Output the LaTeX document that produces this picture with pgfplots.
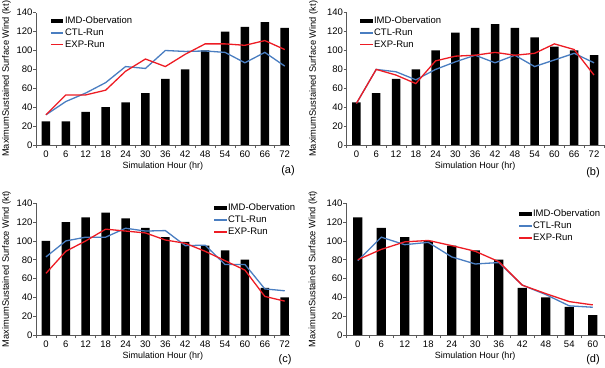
\documentclass[border=0pt]{standalone}
\usepackage{pgfplots}
\pgfplotsset{compat=1.18}
\usepackage{pgfplotstable}
\usepackage{fontspec}
\setmainfont{Liberation Sans}
\definecolor{ctl}{RGB}{74,126,193}
\definecolor{expc}{RGB}{237,28,36}
\definecolor{axgray}{RGB}{90,90,90}

\pgfplotstableread{
x obs ctl exp
0 25 32 32
1 25 46 53
2 35 55 53
3 40 66 58
4 45 83 78
5 55 81 91
6 70 100 83
7 80 99 96
8 100 99.5 107
9 120 98 107
10 125 87 105.5
11 130 98 110.5
12 124 83.5 101
}\tA
\pgfplotstableread{
x obs ctl exp
0 45 44 44
1 55 80 80
2 70 77.5 74
3 80 69 65
4 100 80 89
5 119 88 94
6 124 95 95
7 128 87 98
8 124 95 95
9 114 83 97
10 104 90 107
11 100 97 101
12 95 87 74
}\tB
\pgfplotstableread{
x obs ctl exp
0 100 83 65.5
1 120 100 89
2 125 104 100
3 130 104 112.5
4 124 113.5 110.5
5 114 110.5 108.5
6 104 111 101
7 99 95 97.5
8 95 95.5 89
9 90 75 79
10 80 75 69
11 50 49 41
12 40 47 36
}\tC
\pgfplotstableread{
x obs ctl exp
0 125 79 80
1 114 104 91
2 104 96 99
3 100 98.5 100.5
4 95 83 95
5 90 75.5 89
6 80 77 78
7 50 53 53
8 40 43 44
9 30 31 35.5
10 21 29.5 32
}\tD

\pgfplotsset{
 panel/.style={
  scale only axis,
  anchor=south west,
  ymin=0, ymax=140,
  ytick={0,20,...,140},
  minor ytick={0,20,...,140},
  xmin=-0.5,
  xtick={0,...,12},
  minor xtick={-0.5,0.5,...,12.5},
  axis x line*=bottom, axis y line*=left,
  axis line style={axgray, line width=0.6pt},
  tick align=outside,
  major tick length=0pt,
  minor tick length=3pt,
  every tick/.style={axgray, line width=0.6pt},
  tick label style={font=\fontsize{9.5}{10}\selectfont},
  /pgf/number format/assume math mode=true,
  xticklabel style={yshift=-2pt},
  xlabel={Simulation Hour (hr)},
  ylabel={MaximumSustained Surface Wind (kt)},
  every axis x label/.style={at={(axis description cs:0.5,0)}, anchor=center, yshift=-21pt, font=\fontsize{9}{10}\selectfont},
  legend style={draw=none, fill=none, at={(axis description cs:0,1)}, anchor=north west, inner sep=0pt, font=\fontsize{9.5}{10}\selectfont, row sep=1pt, column sep=0pt, nodes={inner sep=0.8pt, text height=7.3pt, text depth=2pt}},
  legend cell align=left,
 },
 ylab/.style={every axis y label/.style={at={(axis description cs:0,0.5)}, xshift=#1, rotate=90, anchor=center, font=\fontsize{9.3}{10}\selectfont}},
 obs/.style={ybar, bar width=#1, bar shift=0pt, fill=black, draw=none, legend image code/.code={\fill[black] (0pt,-2pt) rectangle (12.5pt,2pt);}},
 ctlline/.style={ctl, line width=1.3pt, legend image code/.code={\draw[ctl, line width=1.6pt] (0pt,0pt) -- (12.5pt,0pt);}},
 expline/.style={expc, line width=1.3pt, legend image code/.code={\draw[expc, line width=1.6pt] (0pt,0pt) -- (12.5pt,0pt);}},
}

\begin{document}
\begin{tikzpicture}
\useasboundingbox (0pt,0pt) rectangle (605pt,367pt);
% (a)
\begin{axis}[panel, ylab=-29.5pt, at={(36pt,222pt)}, width=253.7pt, height=132.3pt, xmax=12.25,
  xticklabels={0,6,12,18,24,30,36,42,48,54,60,66,72},
  legend style={xshift=14pt, yshift=-2.5pt}]
\addplot[obs=8.5pt] table[x=x,y=obs]{\tA};
\addplot[ctlline] table[x=x,y=ctl]{\tA};
\addplot[expline] table[x=x,y=exp]{\tA};
\legend{IMD-Obervation,CTL-Run,EXP-Run}
\end{axis}
% (b)
\begin{axis}[panel, ylab=-33pt, at={(346.5pt,222pt)}, width=257.4pt, height=132.3pt, xmax=12.5,
  xticklabels={0,6,12,18,24,30,36,42,48,54,60,66,72},
  legend style={xshift=12.5pt, yshift=-2.5pt}]
\addplot[obs=8.5pt] table[x=x,y=obs]{\tB};
\addplot[ctlline] table[x=x,y=ctl]{\tB};
\addplot[expline] table[x=x,y=exp]{\tB};
\legend{IMD-Obervation,CTL-Run,EXP-Run}
\end{axis}
% (c)
\begin{axis}[panel, ylab=-29.5pt, at={(36pt,32pt)}, width=253.7pt, height=131.7pt, xmax=12.25,
  xticklabels={0,6,12,18,24,30,36,42,48,54,60,66,72},
  legend style={xshift=177pt, yshift=0.8pt}]
\addplot[obs=8.5pt] table[x=x,y=obs]{\tC};
\addplot[ctlline] table[x=x,y=ctl]{\tC};
\addplot[expline] table[x=x,y=exp]{\tC};
\legend{IMD-Obervation,CTL-Run,EXP-Run}
\end{axis}
% (d)
\begin{axis}[panel, ylab=-33pt, at={(346pt,32pt)}, width=258.5pt, height=131.7pt, xmax=10.5,
  xtick={0,...,10}, minor xtick={-0.5,0.5,...,10.5},
  xticklabels={0,6,12,18,24,30,36,42,48,54,60},
  legend style={xshift=172pt, yshift=-4.7pt, row sep=1.4pt}]
\addplot[obs=9.3pt] table[x=x,y=obs]{\tD};
\addplot[ctlline] table[x=x,y=ctl]{\tD};
\addplot[expline] table[x=x,y=exp]{\tD};
\legend{IMD-Obervation,CTL-Run,EXP-Run}
\end{axis}
\node[font=\fontsize{11}{12}\selectfont] at (288pt,196pt) {(a)};
\node[font=\fontsize{11}{12}\selectfont] at (593pt,194pt) {(b)};
\node[font=\fontsize{11}{12}\selectfont] at (285pt,7pt) {(c)};
\node[font=\fontsize{11}{12}\selectfont] at (593pt,7pt) {(d)};
\end{tikzpicture}
\end{document}
